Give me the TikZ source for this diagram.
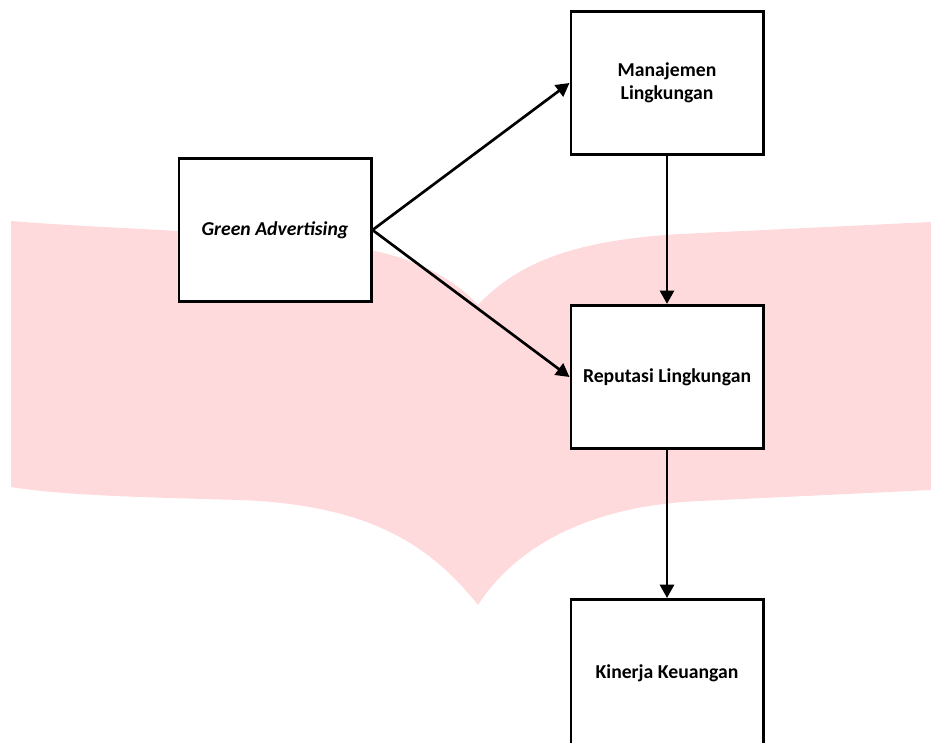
\documentclass[tikz,border=0pt]{standalone}
\usepackage{fontspec}
\setmainfont{Carlito}
\usetikzlibrary{positioning,arrows.meta}
\definecolor{pagepink}{RGB}{255,218,221}

\begin{document}
\begin{tikzpicture}[
  x=0.025cm, y=-0.025cm,
  box/.style={rectangle,draw=black,line width=2.1pt,fill=white,
    minimum width=4.8cm,minimum height=3.58cm,align=center,
    font=\fontsize{14}{16.5}\selectfont\bfseries},
  link/.style={line width=1.9pt,-{Triangle[length=9.5pt,width=10pt]}},
  ]

  \useasboundingbox (0,0) rectangle (931,742);

  % open book in the background
  \fill[pagepink] (11,221) .. controls (120,230) and (280,232) .. (370,250)
    .. controls (420,260) and (455,280) .. (478,305) -- (478,605)
    .. controls (430,545) and (370,505) .. (240,500)
    .. controls (130,497) and (60,495) .. (11,487) -- cycle;
  \fill[pagepink] (478,305) .. controls (520,260) and (580,240) .. (680,234)
    -- (931,222) -- (931,490) -- (700,501)
    .. controls (600,505) and (520,540) .. (478,605) -- cycle;

  \node (green_adv) [box] at (275,230) {\itshape Green Advertising};
  \node (manajemen) [box] at (667,83) {Manajemen\\Lingkungan};
  \node (reputasi) [box] at (667,377) {Reputasi Lingkungan};
  \node (kinerja) [box,minimum height=3.7cm] at (667,673.5) {Kinerja Keuangan};

  \draw[link] (green_adv.east) -- (manajemen.west);
  \draw[link] (green_adv.east) -- (reputasi.west);
  \draw[link] (manajemen.south) -- (reputasi.north);
  \draw[link] (reputasi.south) -- (kinerja.north);

\end{tikzpicture}
\end{document}
